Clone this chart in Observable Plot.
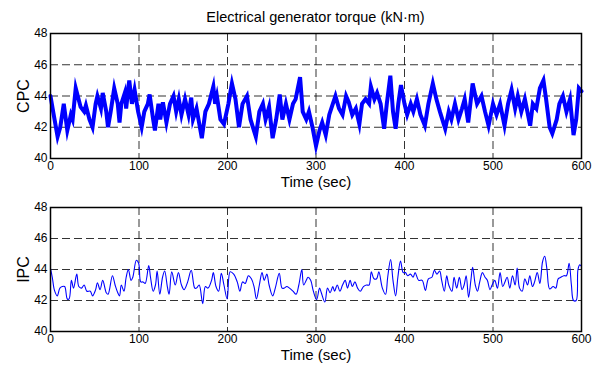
<!DOCTYPE html>
<html>
<head>
<meta charset="utf-8">
<script src="https://cdn.jsdelivr.net/npm/d3@7"></script>
<script src="https://cdn.jsdelivr.net/npm/@observablehq/plot@0.6"></script>
<style>
  body { margin: 0; background: white; }
  #wrap { position: relative; width: 603px; height: 365px; font-family: "Liberation Sans", Arial, sans-serif; }
  #title { position: absolute; left: 50px; width: 531px; top: 9px; text-align: center; font-size: 14.5px; color: #000; }
  svg { display: block; }
</style>
</head>
<body>
<div id="wrap">
  <div id="title"></div>
  <div id="top"></div>
  <div id="bot"></div>
</div>
<script>
const titleText = "Electrical generator torque (kN·m)";
const xLabel = "Time (sec)";
const xTicks = [0, 100, 200, 300, 400, 500, 600];
const yTicks = [40, 42, 44, 46, 48];

// CPC trace
const cpcT = [0,3,8,11,15,19,23,25,28.5,34,38,40,44,47.5,51,53,57,59,63,65,68,72,76,78,80,84,85.5,89,92,95,99,103,106,110,112,116,118,122,124,127,131,135,139,142,145,148,152,156,159,161,165,171,175,179,184,186,188,192,196,201,205,209,213,217,222,226,232,236,240,243,247,251,255,259,262,266,270,274,277,282,285,289,292,296,300,304,307,311,315,319,322,326,330,334,337,341,345,349,352,356,360,362,366,369,373,377,380,384,387,390,393,396,400,403,407,410,414,418,423,427,432,436,440,446,450,453,457,461,465,468,472,477,482,487,491,495,500,504,508,513,517,521,525,528,532,536,542,545,549,553,557,560,564,567,572,575,579,583,587,591,594,597,600];
const cpcV = [44.0,43.0,41.4,42.0,43.5,41.8,42.8,42.5,44.5,43.3,43.0,43.4,42.5,42.0,43.5,44.0,43.2,44.2,43.0,42.0,43.0,44.5,43.5,42.3,43.5,44.2,43.2,45.0,43.5,44.4,43.0,42.0,43.0,43.5,44.1,42.5,41.8,43.5,42.5,43.6,42.3,43.5,44.0,43.0,43.8,42.8,43.8,42.8,43.9,42.5,43.2,41.3,43.0,43.5,44.6,43.5,44.0,42.5,42.2,43.5,44.8,43.8,42.0,43.5,44.0,42.5,41.4,43.0,43.5,42.5,43.3,41.3,42.5,44.1,42.5,43.5,42.5,43.5,43.8,45.2,43.0,42.5,43.0,42.0,40.8,41.8,42.3,41.5,42.8,43.5,44.0,43.2,42.8,44.0,43.6,42.8,43.2,42.2,43.5,43.8,43.5,44.6,43.8,44.2,43.5,41.9,43.5,45.3,43.0,41.9,43.5,44.7,43.5,42.8,43.5,43.0,43.8,42.8,42.1,43.5,44.8,43.8,43.0,41.9,43.0,42.5,43.5,42.5,43.2,43.8,42.3,44.8,43.5,44.0,43.0,42.1,43.5,42.8,43.5,42.1,43.5,44.4,43.2,44.0,43.0,43.8,42.1,43.5,43.2,44.5,45.0,43.8,42.0,41.6,42.5,43.5,44.0,43.0,43.8,41.5,42.5,44.5,44.3];

// IPC trace
const ipcT = [0,2,4.5,7.6,10.6,13.3,16,19,21,23.6,26,29.7,32,35,38,41,45,47.5,51,53,56,59,63,65,70,73,76,78,80,83,85.5,88,91,93,97,99.6,102,104.5,107,111,113,116,118.6,120.5,123.5,126.6,129,132,134,137,141,144.5,148,151,155,159,163,165,168,172,175,178,182,184,187,190,193,196,199.6,203,207,211,214,217,220,223.6,227,230,232.7,236,239,241.5,244.5,247,251,254,258.5,261.6,264,267,270,274,277.5,280.6,284,286,289,291,294,297,300.7,304,306,310,313,316,319,321,324,327,330,333,335.6,338.6,341,344,347,350,353.6,357,360,362.5,365.5,368.5,371,375,378.6,381,384.3,387,390,392.5,395.5,398.5,401,403.7,406.7,409.7,412,416,420,423.6,427,431,433.7,436.6,439.7,442,445,447.7,450,453.6,456,459,462,465,467.4,469.7,472.4,475,477,480,482.4,485,488,491,493.6,496.6,499,502,505,508,511,513.5,516,519,522,525,527.3,530,533,536,539,541.6,544.6,547,550,553,556,558.4,561,564,568,571,573.6,576.6,580,583,586,588.6,591,594,596,598,600];
const ipcV = [44.05,43.5,42.65,42.3,42.8,42.9,42.9,42.1,42.1,43.3,42.8,43.7,42.9,42.8,43.0,42.6,42.6,42.3,42.7,43.15,42.7,43.3,42.5,42.4,43.6,43.0,42.5,42.3,43.0,42.6,43.5,44.0,43.3,43.5,44.6,44.4,43.2,43.2,43.1,44.25,43.5,42.6,43.0,43.9,42.4,43.5,43.9,42.9,42.4,43.85,43.0,43.8,43.0,42.7,43.2,43.95,42.8,42.8,43.0,41.8,42.9,42.8,43.3,43.8,42.9,42.6,43.75,43.0,42.1,43.85,43.7,43.2,42.6,43.2,43.1,43.6,43.4,42.9,42.1,43.0,43.8,43.3,43.7,43.0,42.3,42.8,43.75,42.8,42.8,42.9,42.8,42.6,42.4,43.0,44.0,43.0,43.3,43.5,43.3,42.6,42.05,42.8,42.5,41.9,42.8,42.5,42.9,42.6,43.0,42.6,43.0,43.3,42.8,43.3,42.9,43.2,42.8,42.6,42.9,43.0,43.0,43.85,43.4,43.4,43.85,42.8,42.4,43.5,44.65,43.3,42.3,43.5,44.55,43.8,43.8,43.6,43.7,43.5,43.8,43.3,43.3,42.65,43.4,43.5,43.95,43.7,43.9,43.3,42.6,43.6,43.0,42.6,43.5,42.8,43.5,42.7,43.0,43.6,42.2,43.3,44.15,43.0,42.6,43.2,43.8,43.5,43.3,42.7,43.0,43.3,42.8,43.8,42.9,43.2,43.5,42.8,43.6,43.0,44.1,42.8,42.6,43.4,43.0,43.6,42.9,43.2,43.8,43.1,44.5,44.85,44.0,42.75,42.9,42.8,43.4,43.5,43.6,43.6,44.4,43.0,42.0,42.0,44.0,44.3,44.2];

const cpc = cpcT.map((t, i) => ({t, v: cpcV[i]}));
const ipc = ipcT.map((t, i) => ({t, v: ipcV[i]}));

document.getElementById("title").textContent = titleText;

function panel(data, ylabel, opts) {
  return Plot.plot({
    width: 603,
    height: opts.height,
    marginLeft: 50,
    marginRight: 22,
    marginTop: opts.marginTop,
    marginBottom: opts.marginBottom,
    style: {fontFamily: '"Liberation Sans", Arial, sans-serif', fontSize: "12px", color: "black", background: "white", overflow: "visible"},
    x: {domain: [0, 600]},
    y: {domain: [40, 48]},
    marks: [
      Plot.ruleX(xTicks.slice(1, -1), {stroke: "black", strokeOpacity: 0.8, strokeDasharray: "8,4", strokeWidth: 1}),
      Plot.ruleY(yTicks.slice(1, -1), {stroke: "black", strokeOpacity: 0.8, strokeDasharray: "8,4", strokeWidth: 1}),
      Plot.line(data, {x: "t", y: "v", stroke: "#0000ff", strokeWidth: opts.strokeWidth, strokeLinejoin: opts.join, strokeMiterlimit: 6, curve: opts.curve}),
      Plot.frame({stroke: "black", strokeWidth: 1.5}),
      Plot.axisX({ticks: xTicks, tickSize: 0, tickPadding: 3, fontSize: 12, label: null}),
      Plot.axisX({ticks: [], fontSize: 15, label: xLabel, labelAnchor: "center", labelArrow: "none", labelOffset: 28}),
      Plot.axisY({ticks: yTicks, tickSize: 0, tickPadding: 3, fontSize: 12, label: null}),
      Plot.axisY({ticks: [], fontSize: 16, label: ylabel, labelAnchor: "center", labelArrow: "none", labelOffset: 33})
    ]
  });
}

const p1 = panel(cpc, "CPC", {height: 195, marginTop: 33, marginBottom: 37, strokeWidth: 4, join: "miter", curve: "linear"});
const p2 = panel(ipc, "IPC", {height: 170, marginTop: 12, marginBottom: 34, strokeWidth: 1.1, join: "round", curve: "catmull-rom"});
document.getElementById("top").appendChild(p1);
document.getElementById("bot").appendChild(p2);
</script>
</body>
</html>
